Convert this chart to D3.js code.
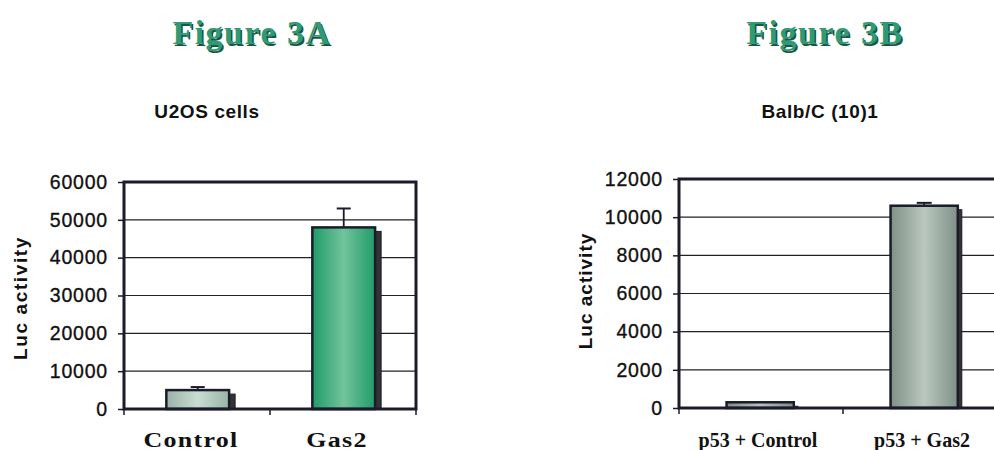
<!DOCTYPE html>
<html>
<head>
<meta charset="utf-8">
<script src="https://cdn.jsdelivr.net/npm/d3@7"></script>
<style>
  html, body { margin: 0; padding: 0; background: #fff; }
  svg { display: block; }
</style>
</head>
<body>
<svg id="chart" width="994" height="450"></svg>
<script>
// Luciferase reporter activity, two experiments
const titleA = "Figure 3A";
const subtitleA = "U2OS cells";
const categoriesA = ["Control", "Gas2"];
const valuesA = [5000, 48000];
const errorsA = [800, 5000];
const ticksA = [0, 10000, 20000, 30000, 40000, 50000, 60000];

const titleB = "Figure 3B";
const subtitleB = "Balb/C (10)1";
const categoriesB = ["p53 + Control", "p53 + Gas2"];
const valuesB = [300, 10600];
const errorsB = [0, 150];
const ticksB = [0, 2000, 4000, 6000, 8000, 10000, 12000];

const yLabel = "Luc activity";

const svg = d3.select("#chart");
const defs = svg.append("defs");

// horizontal shading for the bar faces (lighter in the middle)
function shade(id, edge, mid) {
  const g = defs.append("linearGradient").attr("id", id)
    .attr("x1", "0%").attr("x2", "100%").attr("y1", "0%").attr("y2", "0%");
  g.append("stop").attr("offset", "0%").attr("stop-color", edge);
  g.append("stop").attr("offset", "50%").attr("stop-color", mid);
  g.append("stop").attr("offset", "100%").attr("stop-color", edge);
}
shade("gA0", "#98b4a6", "#c9ddd3");
shade("gA1", "#1f9c68", "#72c39c");
shade("gB0", "#7f8c84", "#b5c1ba");
shade("gB1", "#7f9186", "#bac7c0");

const ink = "#1b1b2b";
const serif = "Liberation Serif, Times New Roman, serif";
const sans = "Liberation Sans, Arial, sans-serif";

function drawPanel(p) {
  const g = svg.append("g");

  const y = d3.scaleLinear().domain([p.ticks[0], p.ticks[p.ticks.length - 1]])
    .range([p.bottom, p.top]);
  const x = d3.scaleBand().domain(p.categories)
    .range([p.left, p.left + p.step * p.categories.length]).padding(0);
  const right = p.left + p.step * p.categories.length;

  // figure heading with a dark offset shadow
  [[1.5, 1.6, "#1b5641"], [0, 0, "#2f9a74"]].forEach(([dx, dy, col]) => {
    g.append("text")
      .attr("x", p.titleX + dx).attr("y", 44 + dy)
      .attr("text-anchor", "middle")
      .attr("font-family", serif)
      .attr("font-weight", "bold").attr("font-size", 34)
      .attr("letter-spacing", 1.5)
      .attr("fill", col)
      .text(p.title);
  });

  // chart subtitle
  g.append("text")
    .attr("x", p.subX).attr("y", 118)
    .attr("text-anchor", "middle")
    .attr("font-family", sans)
    .attr("font-weight", "bold").attr("font-size", 19)
    .attr("letter-spacing", 0.6)
    .attr("fill", "#111")
    .text(p.subtitle);

  // horizontal gridlines
  g.append("g").selectAll("line")
    .data(p.ticks.slice(1, -1))
    .join("line")
    .attr("x1", p.left).attr("x2", right)
    .attr("y1", d => y(d)).attr("y2", d => y(d))
    .attr("stroke", "#222").attr("stroke-width", 1.2);

  // y axis with tick labels
  const yAxis = g.append("g")
    .attr("transform", `translate(${p.left},0)`)
    .call(d3.axisLeft(y).tickValues(p.ticks).tickSize(6).tickPadding(10).tickFormat(d3.format("d")));
  yAxis.select(".domain").remove();
  yAxis.selectAll(".tick line").attr("stroke", ink).attr("stroke-width", 1.5);
  yAxis.selectAll(".tick text")
    .attr("font-family", sans)
    .attr("font-size", 19.5).attr("letter-spacing", 0.8)
    .attr("fill", "#111").attr("stroke", "#111").attr("stroke-width", 0.35);

  // x axis: ticks sit on the category boundaries
  const bounds = p.categories.map(c => x(c)).concat([right]);
  g.append("g").selectAll("line")
    .data(bounds)
    .join("line")
    .attr("x1", d => d).attr("x2", d => d)
    .attr("y1", p.bottom).attr("y2", p.bottom + 6)
    .attr("stroke", ink).attr("stroke-width", 1.5);

  g.append("g").selectAll("text")
    .data(p.categories)
    .join("text")
    .attr("transform", d => `translate(${x(d) + x.bandwidth() / 2 + p.labelShift},447) scale(${p.labelStretch},1)`)
    .attr("text-anchor", "middle")
    .attr("font-family", serif)
    .attr("font-weight", "bold").attr("font-size", 20)
    .attr("letter-spacing", p.labelSpacing)
    .attr("fill", "#111")
    .text(d => d);

  // y axis title
  g.append("text")
    .attr("transform", `translate(${p.yLabelX},${p.yLabelY}) rotate(-90)`)
    .attr("text-anchor", "middle")
    .attr("font-family", sans)
    .attr("font-weight", "bold").attr("font-size", 19)
    .attr("letter-spacing", p.yLabelSpacing)
    .attr("fill", "#111")
    .text(yLabel);

  const bw = x.bandwidth() * p.barFrac;
  const bx = d => x(d) + x.bandwidth() * p.barOffset;
  const rows = p.categories.map((c, i) => ({ c, v: p.values[i], e: p.errors[i], i }));

  // side shading of each column
  g.append("g").selectAll("rect")
    .data(rows)
    .join("rect")
    .attr("x", d => bx(d.c) + bw)
    .attr("y", d => Math.min(y(d.v) + 4, p.bottom))
    .attr("width", p.depth)
    .attr("height", d => Math.max(0, p.bottom - y(d.v) - 4))
    .attr("fill", "#333")
    .attr("stroke", ink).attr("stroke-width", 1);

  // column faces
  g.append("g").selectAll("rect")
    .data(rows)
    .join("rect")
    .attr("x", d => bx(d.c))
    .attr("y", d => y(d.v))
    .attr("width", bw)
    .attr("height", d => p.bottom - y(d.v))
    .attr("fill", d => `url(#${p.grad}${d.i})`)
    .attr("stroke", ink).attr("stroke-width", 2.5);

  // error bars
  const eg = g.append("g").selectAll("g")
    .data(rows.filter(d => d.e > 0))
    .join("g");
  eg.append("line")
    .attr("x1", d => bx(d.c) + bw / 2).attr("x2", d => bx(d.c) + bw / 2)
    .attr("y1", d => y(d.v)).attr("y2", d => y(d.v + d.e))
    .attr("stroke", ink).attr("stroke-width", 1.8);
  eg.append("line")
    .attr("x1", d => bx(d.c) + bw / 2 - p.cap / 2).attr("x2", d => bx(d.c) + bw / 2 + p.cap / 2)
    .attr("y1", d => y(d.v + d.e)).attr("y2", d => y(d.v + d.e))
    .attr("stroke", ink).attr("stroke-width", 2);

  // plot frame
  g.append("rect")
    .attr("x", p.left).attr("y", p.top)
    .attr("width", right - p.left).attr("height", p.bottom - p.top)
    .attr("fill", "none")
    .attr("stroke", ink).attr("stroke-width", 3);
}

drawPanel({
  title: titleA, subtitle: subtitleA, categories: categoriesA,
  values: valuesA, errors: errorsA, ticks: ticksA,
  left: 124, step: 146, top: 182, bottom: 409,
  titleX: 252, subX: 207, yLabelX: 27, yLabelY: 298, yLabelSpacing: 1.6,
  labelSpacing: 1, labelStretch: 1.3, labelShift: -6,
  barFrac: 0.43, barOffset: 0.29, depth: 6, cap: 14, grad: "gA"
});

drawPanel({
  title: titleB, subtitle: subtitleB, categories: categoriesB,
  values: valuesB, errors: errorsB, ticks: ticksB,
  left: 679, step: 164, top: 179, bottom: 408,
  titleX: 825, subX: 820, yLabelX: 592, yLabelY: 291, yLabelSpacing: 1,
  labelSpacing: 0, labelStretch: 1, labelShift: -3,
  barFrac: 0.41, barOffset: 0.29, depth: 4, cap: 15, grad: "gB"
});
</script>
</body>
</html>
